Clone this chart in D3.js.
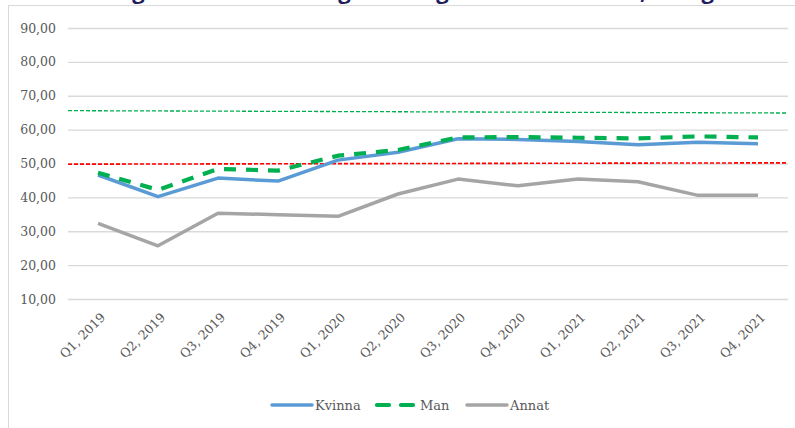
<!DOCTYPE html>
<html>
<head>
<meta charset="utf-8">
<script src="https://cdn.jsdelivr.net/npm/d3@7"></script>
<style>
  body { margin: 0; background: #fff; }
  svg { display: block; }
</style>
</head>
<body>
<div id="chart"></div>
<script>
// data
var quarters = ['Q1, 2019', 'Q2, 2019', 'Q3, 2019', 'Q4, 2019', 'Q1, 2020', 'Q2, 2020',
                'Q3, 2020', 'Q4, 2020', 'Q1, 2021', 'Q2, 2021', 'Q3, 2021', 'Q4, 2021'];
var kvinna = [46.6, 40.2, 45.7, 44.8, 51.0, 53.3, 57.3, 57.1, 56.5, 55.5, 56.3, 55.8];
var man    = [47.3, 42.2, 48.4, 47.9, 52.3, 54.0, 57.7, 57.8, 57.6, 57.4, 58.0, 57.7];
var annat  = [32.3, 25.7, 35.3, 34.9, 34.4, 41.0, 45.4, 43.4, 45.4, 44.6, 40.6, 40.6];
var refGreen = [65.6, 64.9];   // start, end
var refRed   = [49.8, 50.2];
var yTicks = [10, 20, 30, 40, 50, 60, 70, 80, 90];

var width = 795, height = 428,
    margin = {top: 28, right: 7, bottom: 129, left: 68};
var innerW = width - margin.left - margin.right,
    innerH = height - margin.top - margin.bottom;

var svg = d3.select('#chart').append('svg')
  .attr('width', width)
  .attr('height', height);

// title strip, mostly cut off above the frame as in the source picture
svg.append('text')
  .attr('x', 96)
  .attr('y', -1)
  .style('font-family', '"Open Sans", sans-serif')
  .style('font-weight', 'bold')
  .style('font-size', '22px')
  .style('fill', '#1f1d5e')
  .text('Diagram 5: Andel kategorisering kvinnor och män, kategorisering justerad');

// chart frame
svg.append('rect')
  .attr('x', 8.5).attr('y', 5.5)
  .attr('width', 800).attr('height', 440)
  .style('fill', '#fff')
  .style('stroke', '#d9d9d9');

var g = svg.append('g').attr('transform', `translate(${margin.left},${margin.top})`);

var x = d3.scaleBand().domain(quarters).range([0, innerW]);
var y = d3.scaleLinear().domain([10, 90]).range([innerH, 0]);
var fmt = function (d) { return d3.format('.2f')(d).replace('.', ','); };
var serif = '"DejaVu Serif", "Liberation Serif", serif';

// gridlines + y labels
var yAxis = d3.axisLeft(y).tickValues(yTicks).tickSize(-innerW).tickPadding(12).tickFormat(fmt);
var ya = g.append('g').call(yAxis);
ya.select('.domain').remove();
ya.selectAll('line').style('stroke', '#d9d9d9').style('stroke-width', 1.3);
ya.selectAll('text')
  .style('font-family', serif)
  .style('font-size', '12.5px')
  .style('fill', '#595959');

// x labels, rotated
var xAxis = d3.axisBottom(x).tickSize(0).tickPadding(0);
var xa = g.append('g').attr('transform', `translate(0,${innerH})`).call(xAxis);
xa.select('.domain').remove();
xa.selectAll('text')
  .attr('text-anchor', 'end')
  .attr('transform', 'translate(5,16) rotate(-45)')
  .attr('dy', '0.35em')
  .attr('y', 0)
  .style('font-family', serif)
  .style('font-size', '12.5px')
  .style('fill', '#595959');

// reference lines across the plot
function refLine(vals, color, dash, w) {
  g.append('line')
    .attr('x1', 0).attr('x2', innerW)
    .attr('y1', y(vals[0])).attr('y2', y(vals[1]))
    .style('stroke', color)
    .style('stroke-width', w)
    .style('stroke-dasharray', dash);
}
refLine(refGreen, '#00b050', '4,2', 1.3);
refLine(refRed, '#ff0000', '4,2', 1.6);

var line = d3.line()
  .x(function (d, i) { return x(quarters[i]) + x.bandwidth() / 2; })
  .y(function (d) { return y(d); });

var series = [
  {name: 'Kvinna', values: kvinna, color: '#5b9bd5', w: 3.5, dash: null},
  {name: 'Man', values: man, color: '#00b050', w: 4.2, dash: '12,10'},
  {name: 'Annat', values: annat, color: '#a5a5a5', w: 3.5, dash: null}
];

// draw annat first, then kvinna, then man on top
[series[2], series[0], series[1]].forEach(function (s) {
  g.append('path')
    .datum(s.values)
    .attr('d', line)
    .style('fill', 'none')
    .style('stroke', s.color)
    .style('stroke-width', s.w)
    .style('stroke-linejoin', 'round')
    .style('stroke-dasharray', s.dash);
});

// legend
var legendPos = [272, 377, 467];
var lg = svg.append('g').attr('transform', 'translate(0,405)');
series.forEach(function (s, i) {
  var x0 = legendPos[i];
  lg.append('line')
    .attr('x1', x0).attr('x2', x0 + 40)
    .attr('y1', 0).attr('y2', 0)
    .style('stroke', s.color)
    .style('stroke-width', s.w)
    .style('stroke-linecap', 'round')
    .style('stroke-dasharray', s.dash ? '12,12' : null);
  lg.append('text')
    .attr('x', x0 + 43)
    .attr('y', 0)
    .attr('dy', '0.35em')
    .style('font-family', serif)
    .style('font-size', '13px')
    .style('fill', '#595959')
    .text(s.name);
});
</script>
</body>
</html>
